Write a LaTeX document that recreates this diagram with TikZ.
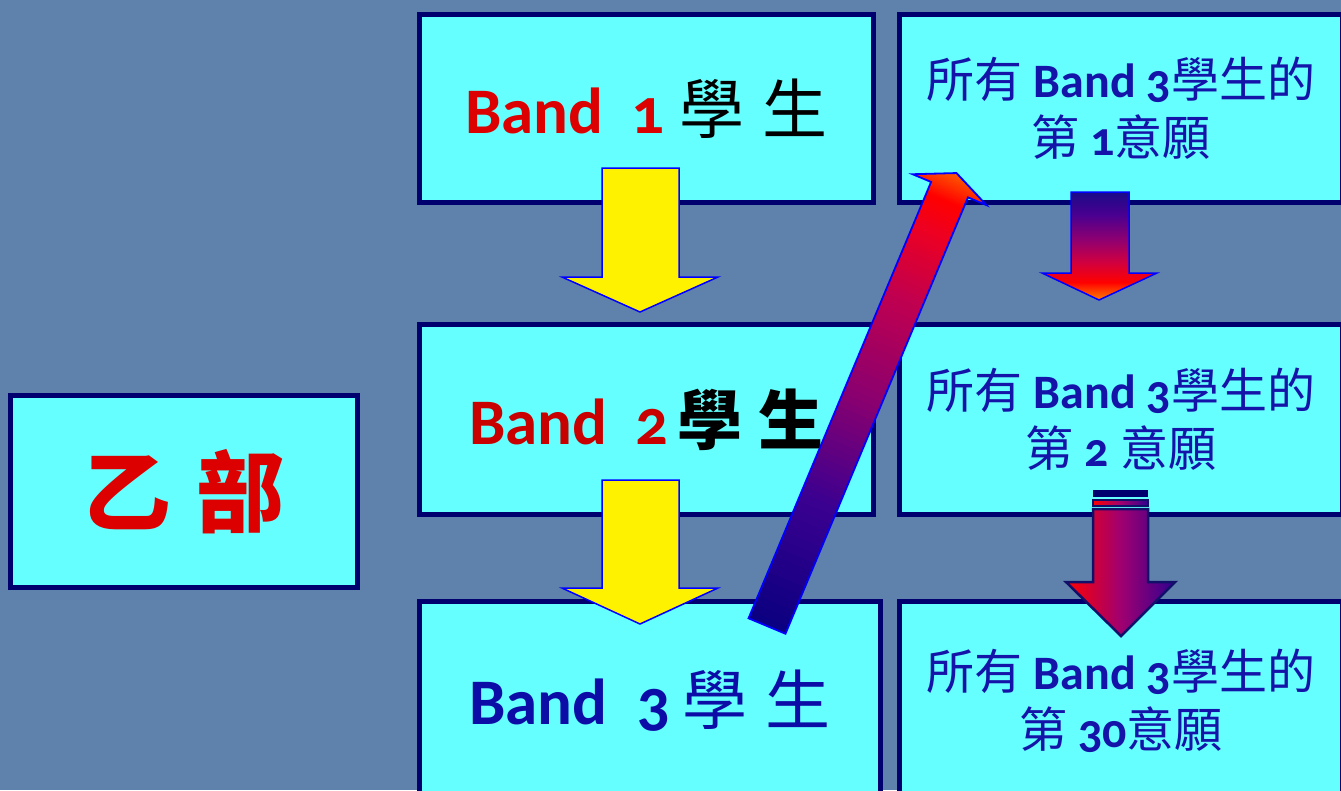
\documentclass[tikz,border=0pt]{standalone}
\usepackage{fontspec}
\newfontfamily\lat[Numbers=OldStyle]{Carlito}
\newfontfamily\cjk{Noto Sans CJK TC}
\definecolor{bgslate}{HTML}{5F82AC}
\definecolor{boxcyan}{HTML}{66FFFF}
\definecolor{boxnavy}{HTML}{00006E}
\definecolor{txtred}{HTML}{DD0000}
\definecolor{txtredB}{HTML}{C80000}
\definecolor{txtblue}{HTML}{0C0CA6}
\definecolor{txtblueC}{HTML}{1414A8}
\definecolor{arrblue}{HTML}{0000FF}
\definecolor{arrnavy}{HTML}{10106A}
% right arrow 1 (vertical gradient)
\definecolor{raA}{RGB}{26,10,136}
\definecolor{raB}{RGB}{74,0,144}
\definecolor{raC}{RGB}{144,0,112}
\definecolor{raD}{RGB}{208,0,64}
\definecolor{raE}{RGB}{255,0,0}
\definecolor{raF}{RGB}{255,128,0}
% right arrow 2 (horizontal gradient)
\definecolor{rbA}{RGB}{255,0,0}
\definecolor{rbB}{RGB}{160,0,112}
\definecolor{rbC}{RGB}{48,0,144}
% diagonal arrow
\definecolor{dgA}{RGB}{10,0,128}
\definecolor{dgB}{RGB}{60,0,144}
\definecolor{dgC}{RGB}{136,0,112}
\definecolor{dgD}{RGB}{192,0,80}
\definecolor{dgE}{RGB}{238,0,32}
\definecolor{dgF}{RGB}{255,0,0}
\definecolor{dgG}{RGB}{255,100,0}
\pgfdeclareverticalshading{rarrA}{100bp}{color(0bp)=(raF); color(25bp)=(raF); color(33.3bp)=(raE); color(42.6bp)=(raD); color(52.8bp)=(raC); color(64.4bp)=(raB); color(75bp)=(raA); color(100bp)=(raA)}
\tikzset{
  panel/.style={rectangle, draw=boxnavy, line width=5, fill=boxcyan, inner sep=0pt, align=center},
  yarrow/.style={fill=yellow, draw=arrblue, line width=1.5, line join=miter},
  bandfont/.style={font=\lat\bfseries\fontsize{65}{78}\selectfont},
  prefont/.style={font=\lat\fontsize{48}{58}\selectfont, text=txtblueC}
}
\begin{document}
\begin{tikzpicture}[x=1pt,y=-1pt]
\useasboundingbox (0,0) rectangle (1341,790);
\clip (0,0) rectangle (1341,790);
\fill[bgslate] (0,0) rectangle (1341,790);

% left box
\node[panel, minimum width=347, minimum height=192, font=\cjk\bfseries\fontsize{88}{100}\selectfont, text=txtred] (yibu) at (184,491.5) {乙\hspace{25pt}部};

% left column
\node[panel, bandfont, minimum width=454, minimum height=188] (b1) at (646.5,108.5)
  {{\color{txtred}Band\hspace{28pt}1}\hspace{15pt}{\cjk\mdseries 學\hspace{18pt}生}};
\node[panel, bandfont, minimum width=454, minimum height=190] (b2) at (646.5,419.5)
  {{\color{txtredB}Band\hspace{28pt}2}\hspace{9pt}{\cjk\bfseries 學\hspace{16pt}生}};
\node[panel, bandfont, minimum width=461, minimum height=199, text=txtblue] (b3) at (650,700.5)
  {Band\hspace{30pt}3\hspace{12pt}{\cjk\mdseries 學\hspace{18pt}生}};

% right column
\node[panel, prefont, minimum width=443, minimum height=188] (c1) at (1121,108.5)
  {{\cjk 所有} {\bfseries Band 3}{\cjk 學生的}\\{\cjk 第} {\bfseries 1}{\cjk 意願}};
\node[panel, prefont, minimum width=443, minimum height=190] (c2) at (1121,419.5)
  {{\cjk 所有} {\bfseries Band 3}{\cjk 學生的}\\{\cjk 第} {\bfseries 2} {\cjk 意願}};
\node[panel, prefont, minimum width=443, minimum height=199] (c3) at (1121,700.5)
  {{\cjk 所有} {\bfseries Band 3}{\cjk 學生的}\\{\cjk 第} {\bfseries 30}{\cjk 意願}};

% yellow block arrows
\draw[yarrow] (602,168) -- (679,168) -- (679,277) -- (718,277) -- (640,312) -- (562,277) -- (602,277) -- cycle;
\draw[yarrow] (602,480) -- (679,480) -- (679,588) -- (718,588) -- (640,624) -- (562,588) -- (602,588) -- cycle;

% right arrow 1
\shadedraw[shading=rarrA, draw=arrblue, line width=1.5, line join=miter]
  (1071,192) -- (1129,192) -- (1129,273) -- (1157,273) -- (1099,300) -- (1042,273) -- (1071,273) -- cycle;

% right arrow 2 (striped)
\fill[boxnavy] (1093,490) rectangle (1148,497);
\shadedraw[left color=rbA, right color=rbC, middle color=rbB, draw=arrnavy, line width=2] (1093,499.5) rectangle (1148,505.5);
\shadedraw[left color=rbA, right color=rbC, middle color=rbB, draw=arrnavy, line width=2.5, line join=miter]
  (1093,509) -- (1148,509) -- (1148,582) -- (1175,582) -- (1121,636) -- (1066,582) -- (1093,582) -- cycle;

% diagonal arrow from Band 3 to first preference
\begin{scope}[shift={(767,626)}, rotate=-22.7]
  \begin{scope}
    \clip (-20,0) -- (20,0) -- (20,-473) -- (40,-473) -- (0,-491) -- (-40,-473) -- (-20,-473) -- cycle;
    \foreach \ua/\ub/\ca/\cb in {0/137/dgA/dgB, 137/245/dgB/dgC, 245/354/dgC/dgD, 354/430/dgD/dgE, 430/462/dgE/dgF, 462/495/dgF/dgG}{
      \foreach \k in {0,...,15}{
        \pgfmathtruncatemacro\p{round((\k+0.5)*100/16)}
        \fill[\cb!\p!\ca] (-45,{-(\ua+(\ub-\ua)*\k/16)+0.8}) rectangle (45,{-(\ua+(\ub-\ua)*(\k+1)/16)-0.8});
      }
    }
  \end{scope}
  \draw[arrblue, line width=1.8, line join=miter] (-20,0) -- (20,0) -- (20,-473) -- (40,-473) -- (0,-491) -- (-40,-473) -- (-20,-473) -- cycle;
\end{scope}
\end{tikzpicture}
\end{document}
